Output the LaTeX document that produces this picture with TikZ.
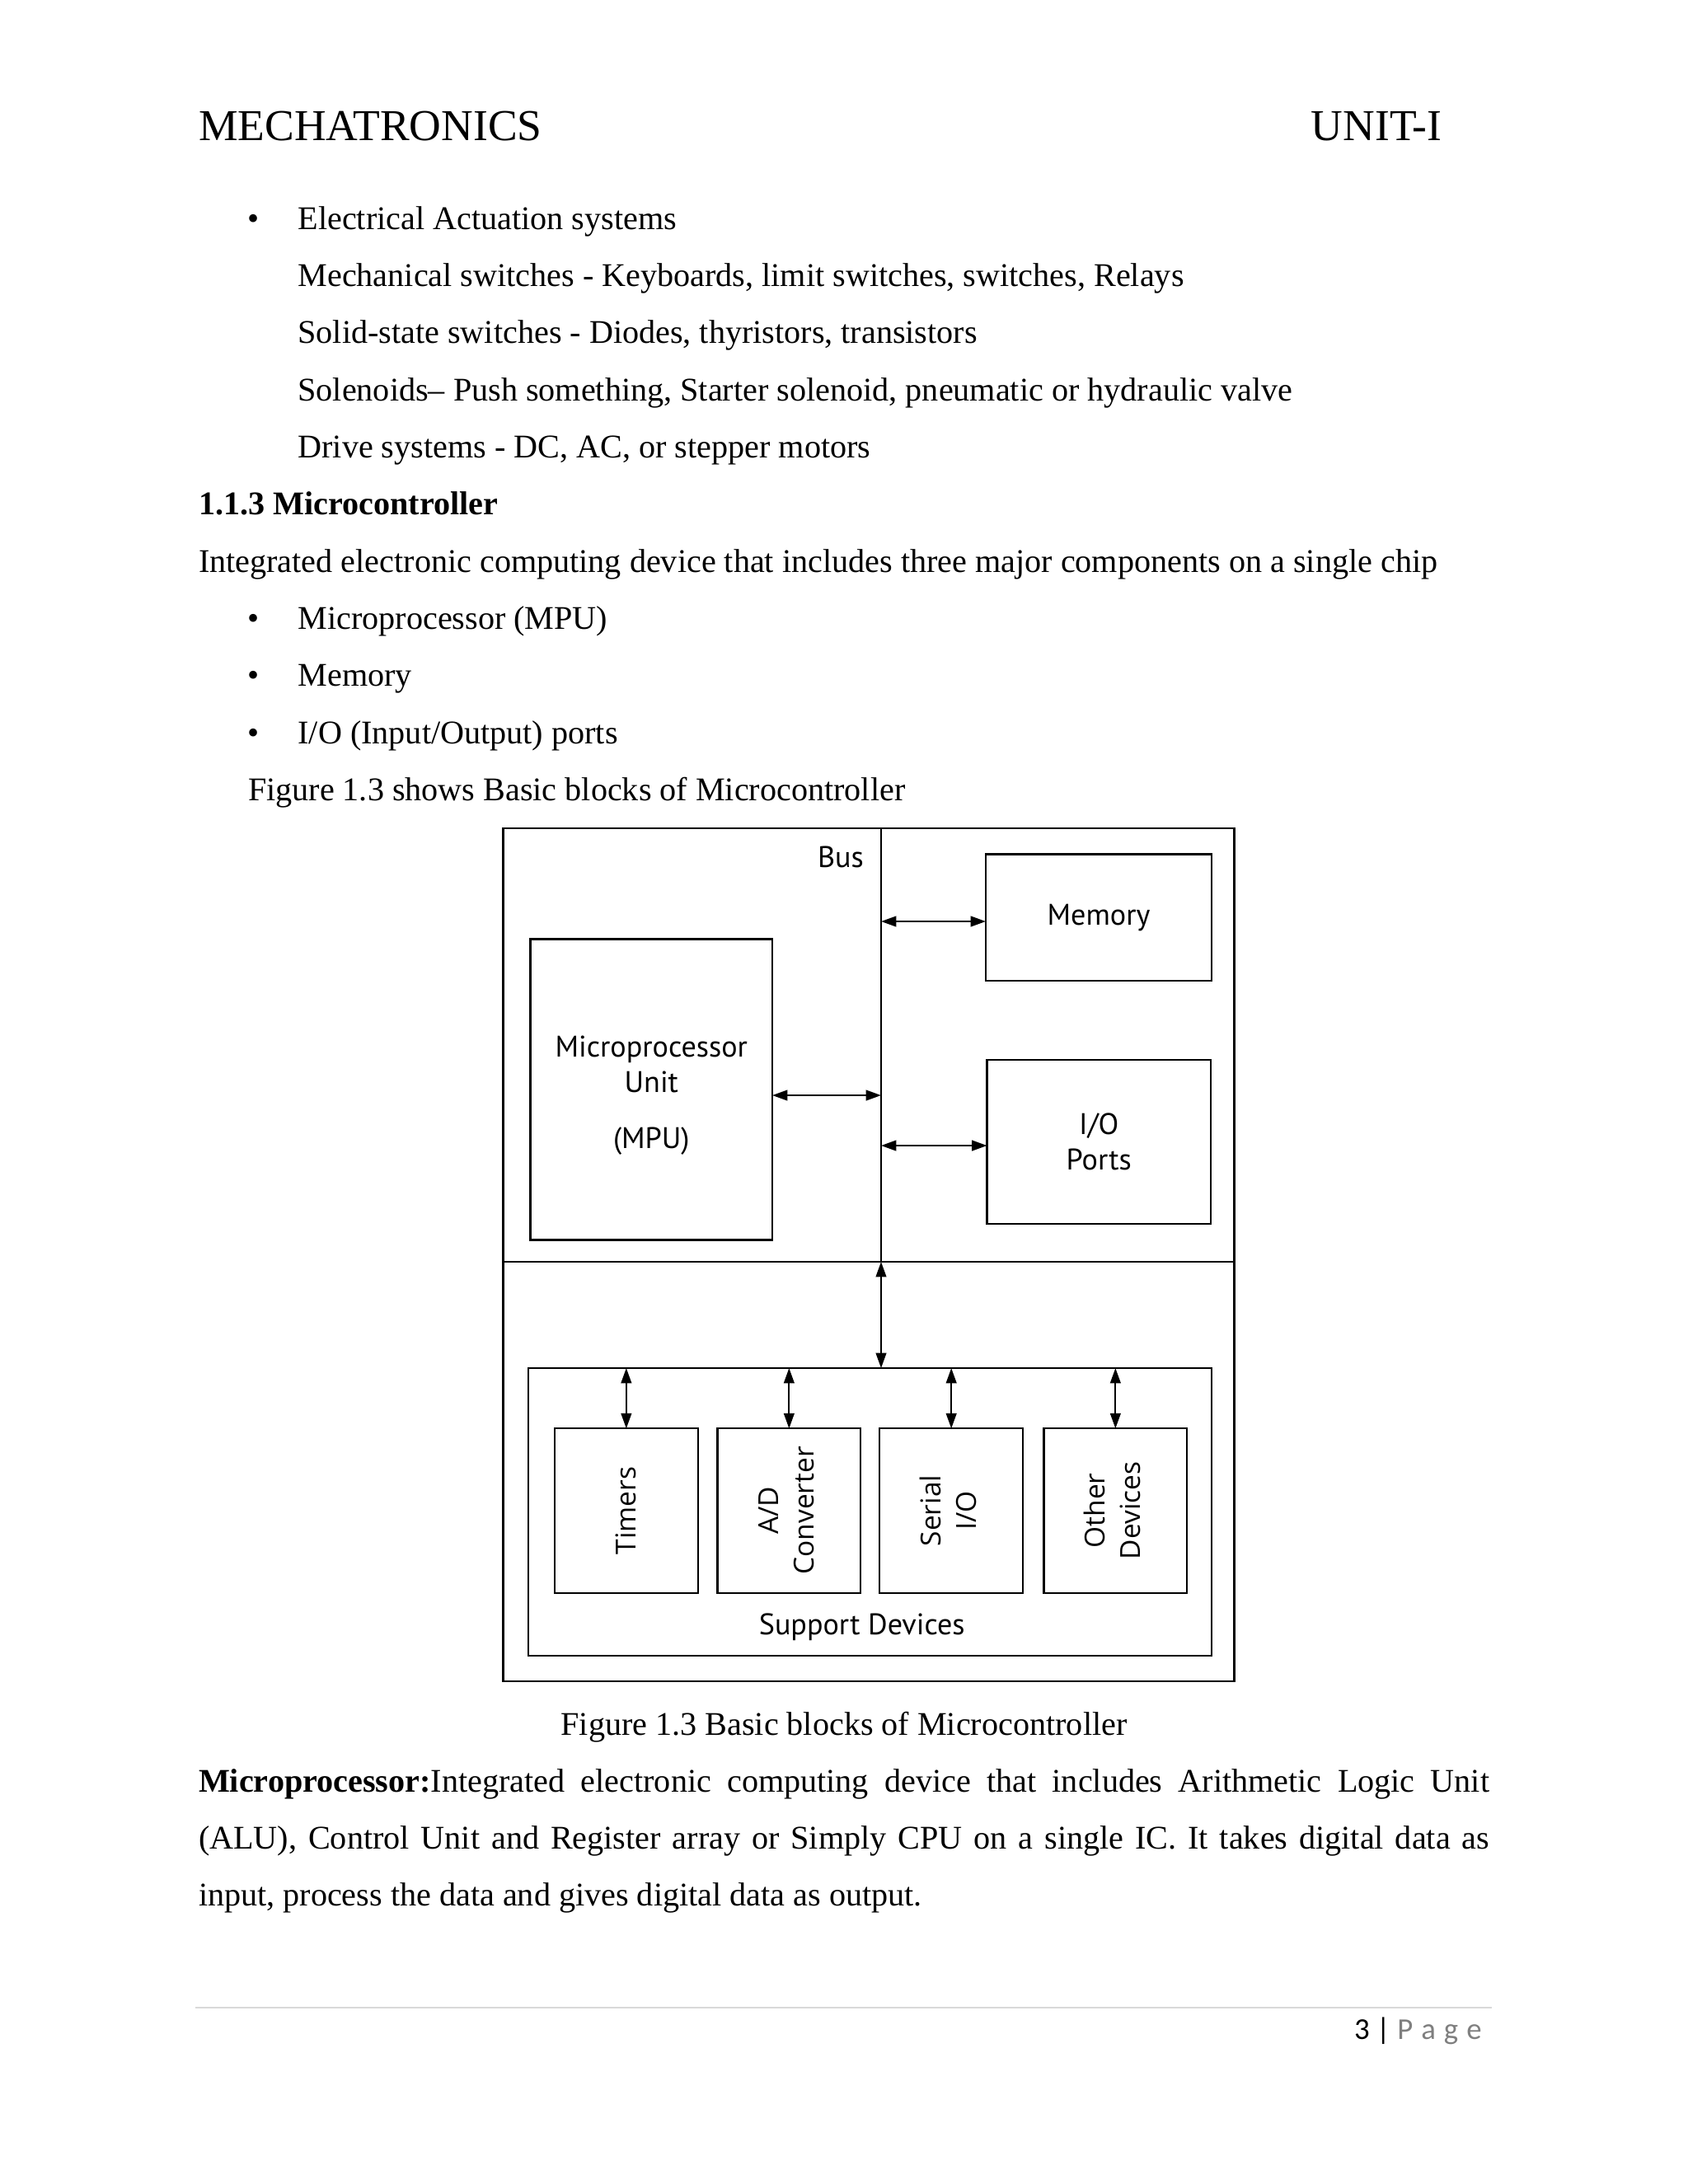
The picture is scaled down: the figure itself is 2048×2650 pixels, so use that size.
\documentclass[tikz,border=0pt]{standalone}
\usepackage{fontspec}
\setmainfont{Liberation Serif}
\newfontfamily\diagfont{PT Sans}
\newfontfamily\rotfont{Open Sans}
\newfontfamily\footfont{Carlito}
\usetikzlibrary{arrows.meta}
\definecolor{footgray}{HTML}{7F7F7F}
\definecolor{rulegray}{HTML}{D9D9D9}
\begin{document}
\frenchspacing
\begin{tikzpicture}[x=0.298828pt,y=-0.298828pt,
  txt/.style={inner sep=0pt,outer sep=0pt,anchor=base west,font=\fontsize{12}{14}\selectfont},
  hdr/.style={inner sep=0pt,outer sep=0pt,font=\fontsize{16}{18}\selectfont},
  box/.style={draw,line width=0.7pt,inner sep=0pt,outer sep=0pt},
  sz/.style n args={2}{minimum width=#1*0.298828pt,minimum height=#2*0.298828pt},
  lbl/.style={font=\diagfont\fontsize{10.8}{12.8}\selectfont,align=center},
  rlbl/.style={font=\rotfont\fontsize{10}{13}\selectfont},
  biarrow/.style={{Triangle[length=5.5pt,width=3.8pt]}-{Triangle[length=5.5pt,width=3.8pt]},line width=0.6pt},
  busline/.style={line width=0.6pt}
]
\useasboundingbox (0,0) rectangle (2048,2650);

% ---------- header ----------
\node[hdr,anchor=base west] (hl) at (241,170) {MECHATRONICS};
\node[hdr,anchor=base east] (hr) at (1749.5,170) {UNIT-I};

% ---------- text above the figure ----------
\node[txt] (b1) at (300,278.3) {\textbullet};
\node[txt] (t1) at (361.5,278.3) {Electrical Actuation systems};
\node[txt] (t2) at (361.5,347.6) {Mechanical switches - Keyboards, limit switches, switches, Relays};
\node[txt] (t3) at (361.5,416.9) {Solid-state switches - Diodes, thyristors, transistors};
\node[txt] (t4) at (361.5,486.2) {Solenoids– Push something, Starter solenoid, pneumatic or hydraulic valve};
\node[txt] (t5) at (361.5,555.5) {Drive systems - DC, AC, or stepper motors};
\node[txt] (t6) at (241,624.8) {\textbf{1.1.3 Microcontroller}};
\node[txt] (t7) at (241,694.1) {Integrated electronic computing device that includes three major components on a single chip};
\node[txt] (b2) at (300,763.4) {\textbullet};
\node[txt] (t8) at (361.5,763.4) {Microprocessor (MPU)};
\node[txt] (b3) at (300,832.7) {\textbullet};
\node[txt] (t9) at (361.5,832.7) {Memory};
\node[txt] (b4) at (300,902.0) {\textbullet};
\node[txt] (t10) at (361.5,902.0) {I/O (Input/Output) ports};
\node[txt] (t11) at (301,971.3) {Figure 1.3 shows Basic blocks of Microcontroller};

% ---------- diagram ----------
\node[box,line width=0.8pt,sz={887}{1035}] (outer) at (1054,1522.5) {};
\coordinate (busT) at (1069,1005);
\coordinate (busB) at (1069,1531);
\coordinate (divL) at (610.5,1531);
\coordinate (divR) at (1497.5,1531);
\draw[busline] (busT) -- (busB);
\draw[busline] (divL) -- (divR);
\node[lbl,anchor=base,inner sep=0pt] (buslbl) at (1020,1052.5) {Bus};

\node[box,lbl,sz={274}{153.4}] (mem) at (1333,1113.3) {Memory};
\node[box,sz={293.4}{365.1}] (mpu) at (790.3,1322) {};
\node[lbl,inner sep=0pt] (mputxt) at (790.3,1329) {Microprocessor\\Unit\\[7.4pt](MPU)};
\node[box,lbl,sz={271.5}{198.8}] (io) at (1333.25,1385.4) {I/O\\Ports};

\coordinate (bm) at (1069,1118);
\coordinate (bp) at (1069,1329);
\coordinate (bi) at (1069,1390);
\draw[biarrow] (bm) -- (bm -| mem.west);
\draw[biarrow] (bp -| mpu.east) -- (bp);
\draw[biarrow] (bi) -- (bi -| io.west);

\node[box,sz={828.9}{348.7}] (sup) at (1055.75,1834.35) {};
\draw[biarrow] (busB) -- (busB |- sup.north);
\node[lbl,anchor=base,inner sep=0pt] (suplbl) at (1045.7,1983.4) {Support Devices};

\node[box,rlbl,sz={173.9}{199.5}] (tim) at (759.85,1832.95) {\rotatebox{90}{Timers}};
\node[box,rlbl,sz={173.9}{199.5}] (adc) at (957.35,1832.95) {\rotatebox{90}{\begin{tabular}{@{}c@{}}A/D\\Converter\end{tabular}}};
\node[box,rlbl,sz={173.9}{199.5}] (ser) at (1154.2,1832.95) {\rotatebox{90}{\begin{tabular}{@{}c@{}}Serial\\I/O\end{tabular}}};
\node[box,rlbl,sz={173.9}{199.5}] (oth) at (1353.35,1832.95) {\rotatebox{90}{\begin{tabular}{@{}c@{}}Other\\Devices\end{tabular}}};

\foreach \b in {tim,adc,ser,oth}{
  \draw[biarrow] (\b.north |- sup.north) -- (\b.north);
}

% ---------- caption and paragraph ----------
\node[txt,anchor=base] (cap) at (1024,2105) {Figure 1.3 Basic blocks of Microcontroller};
\node[txt] (p1) at (241,2174.3) {\makebox[468pt][s]{\textbf{Microprocessor:}Integrated electronic computing device that includes Arithmetic Logic Unit}};
\node[txt] (p2) at (241,2243.6) {\makebox[468pt][s]{(ALU), Control Unit and Register array or Simply CPU on a single IC. It takes digital data as}};
\node[txt] (p3) at (241,2312.9) {input, process the data and gives digital data as output.};

% ---------- footer ----------
\coordinate (fl) at (237,2435.7);
\coordinate (fr) at (1810,2435.7);
\draw[rulegray,line width=0.6pt] (fl) -- (fr);
\node[inner sep=0pt,outer sep=0pt,anchor=base west,font=\footfont\fontsize{11}{13}\selectfont] (pg) at (1643,2474)
  {3 | \textcolor{footgray}{P\hspace{3pt}a\hspace{3pt}g\hspace{3pt}e}};
\end{tikzpicture}
\end{document}
